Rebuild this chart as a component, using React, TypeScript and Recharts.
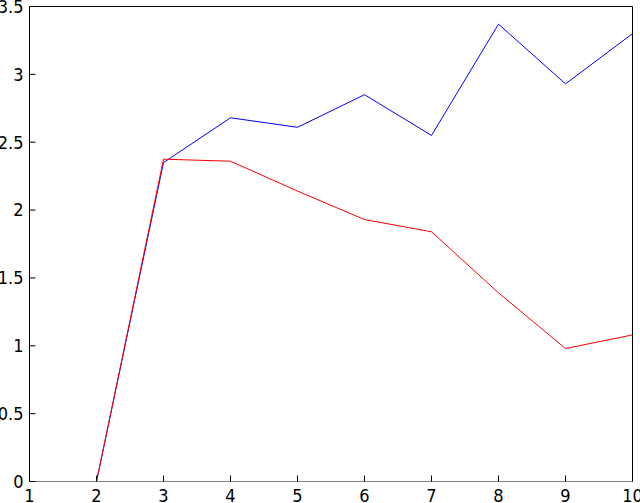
import React from "react"
import { LineChart, Line, XAxis, YAxis } from "recharts"

const xValues = [2, 3, 4, 5, 6, 7, 8, 9, 10]
const blueValues = [0, 2.35, 2.68, 2.61, 2.85, 2.55, 3.37, 2.93, 3.3]
const redValues = [0, 2.375, 2.36, 2.14, 1.93, 1.84, 1.39, 0.98, 1.08]
const xTicks = [1, 2, 3, 4, 5, 6, 7, 8, 9, 10]
const yTicks = [0, 0.5, 1, 1.5, 2, 2.5, 3, 3.5]

const data = xValues.map((x, i) => ({ x, blue: blueValues[i], red: redValues[i] }))

const FONT = "'Liberation Sans Narrow', 'DejaVu Sans Condensed', 'Liberation Sans', sans-serif"
const tickText = { fill: "#000", fontSize: 18, fontFamily: FONT }
const tickStroke = { stroke: "#000", strokeWidth: 1 }

export default function App() {
  return (
    <div style={{ width: 640, height: 503, background: "#fff" }}>
      <style>{`body{margin:0}`}</style>
      <LineChart width={640} height={503} data={data} margin={{ top: 5.5, right: 6.5, bottom: 0, left: 0 }}>
        <XAxis
          xAxisId="bottom"
          dataKey="x"
          type="number"
          domain={[1, 10]}
          ticks={xTicks}
          height={21.5}
          tickSize={-6}
          tickMargin={14}
          tickLine={tickStroke}
          axisLine={{ stroke: "#808080" }}
          tick={tickText}
          interval={0}
        />
        <XAxis
          xAxisId="top"
          orientation="top"
          type="number"
          dataKey="x"
          domain={[1, 10]}
          ticks={xTicks}
          height={1}
          tickSize={-6}
          tickLine={tickStroke}
          axisLine={tickStroke}
          tick={false}
          interval={0}
        />
        <YAxis
          yAxisId="left"
          type="number"
          domain={[0, 3.5]}
          ticks={yTicks}
          width={29.5}
          tickSize={-6}
          tickMargin={12}
          tickLine={tickStroke}
          axisLine={tickStroke}
          tick={tickText}
          interval={0}
        />
        <YAxis
          yAxisId="right"
          orientation="right"
          type="number"
          domain={[0, 3.5]}
          ticks={yTicks}
          width={1}
          tickSize={-6}
          tickLine={tickStroke}
          axisLine={tickStroke}
          tick={false}
          interval={0}
        />
        <Line xAxisId="bottom" yAxisId="left" dataKey="blue" stroke="#0000ff" strokeWidth={1} dot={false} isAnimationActive={false} />
        <Line xAxisId="top" yAxisId="right" dataKey="red" stroke="#ff0000" strokeWidth={1} dot={false} isAnimationActive={false} />
      </LineChart>
    </div>
  )
}
